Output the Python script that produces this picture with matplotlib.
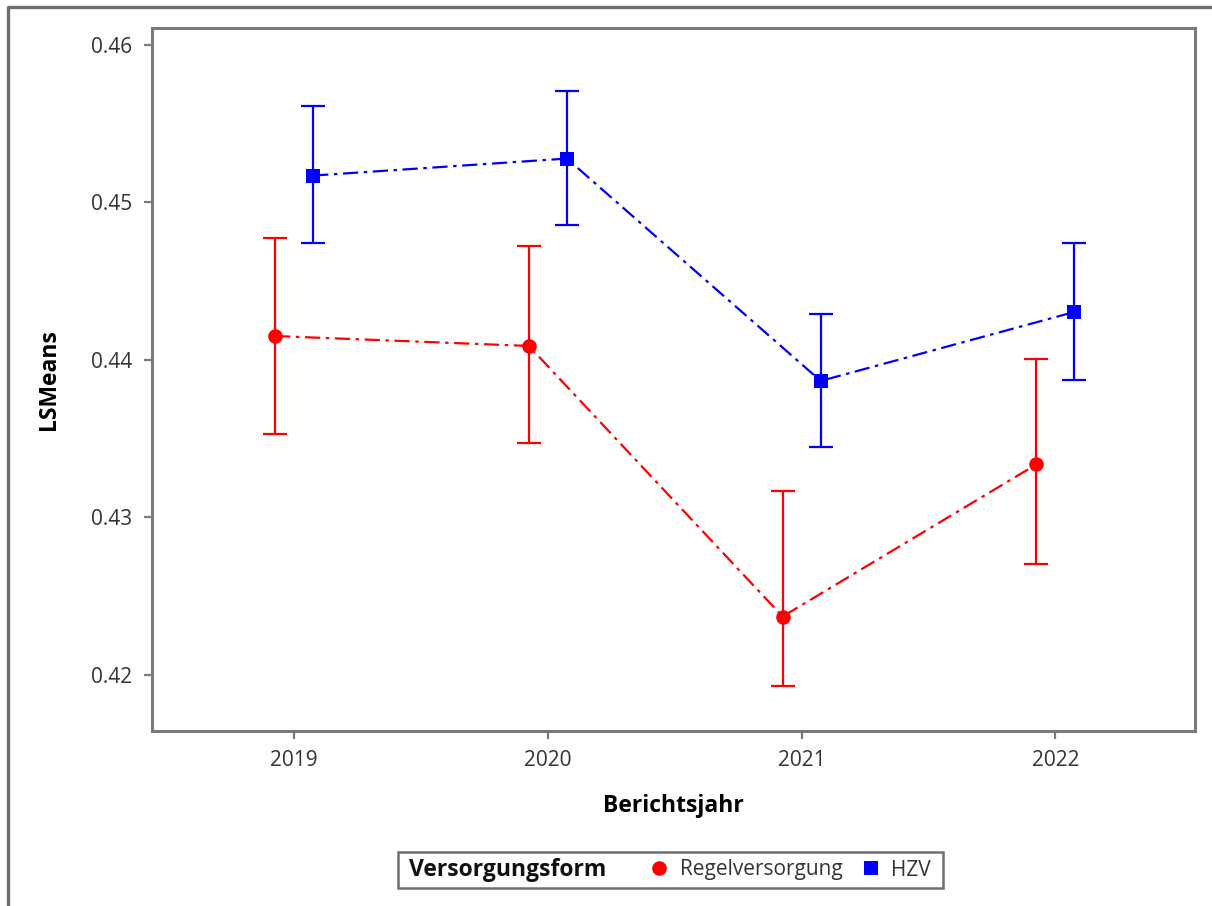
import matplotlib
matplotlib.use("Agg")
import matplotlib.pyplot as plt
from matplotlib.lines import Line2D
from matplotlib.patches import Rectangle
import numpy as np

plt.rcParams['font.family'] = ['Open Sans', 'DejaVu Sans']
plt.rcParams['lines.scale_dashes'] = False

years = ["2019", "2020", "2021", "2022"]
groups = ["Regelversorgung", "HZV"]

regel_mean = [0.44152, 0.44089, 0.42371, 0.43337]
regel_lower = [0.43530, 0.43473, 0.41927, 0.42702]
regel_upper = [0.44775, 0.44724, 0.43171, 0.44006]

hzv_mean = [0.45171, 0.45279, 0.43867, 0.44305]
hzv_lower = [0.44740, 0.44854, 0.43448, 0.43873]
hzv_upper = [0.45610, 0.45711, 0.44292, 0.44740]

W, H = 1212, 906
fig = plt.figure(figsize=(W / 100, H / 100), dpi=100)
ax = fig.add_axes([152 / W, 1 - 731 / H, (1195 - 152) / W, (731 - 28) / H])

x = np.arange(len(years))
offset = 0.075
dash = (0, (11, 4, 2.5, 4))

series = [
    (regel_mean, regel_lower, regel_upper, "#ff0000", "o", -offset, groups[0]),
    (hzv_mean, hzv_lower, hzv_upper, "#0000ff", "s", offset, groups[1]),
]
for mean, lo, hi, col, mk, off, name in series:
    mean = np.array(mean)
    yerr = np.vstack([mean - np.array(lo), np.array(hi) - mean])
    ax.errorbar(x + off, mean, yerr=yerr, fmt="none", ecolor=col,
                elinewidth=1.6, capsize=8.5, capthick=1.6, zorder=2)
    ax.plot(x + off, mean, color=col, linestyle=dash, linewidth=1.6,
            marker=mk, markersize=10.5, markeredgewidth=0, zorder=3, label=name)

ax.set_xlim(-0.56, 3.55)
ax.set_ylim(0.41644, 0.46108)
ax.set_xticks(x)
ax.set_xticklabels(years)
ax.set_yticks([0.42, 0.43, 0.44, 0.45, 0.46])
ax.set_yticklabels(["0.42", "0.43", "0.44", "0.45", "0.46"])

for sp in ax.spines.values():
    sp.set_color("#7a7a7a")
    sp.set_linewidth(2.2)
ax.tick_params(axis="both", length=6, width=1.6, color="#7a7a7a",
               labelsize=15, labelcolor="#333333", pad=8)

ax.set_xlabel("Berichtsjahr", fontsize=16.5, fontweight="bold", labelpad=16)
ax.set_ylabel("LSMeans", fontsize=16.5, fontweight="bold", labelpad=22)

# outer frame (left and top edges)
fig.add_artist(Line2D([8 / W, 8 / W, 1.0], [0.0, 1 - 7 / H, 1 - 7 / H],
                      transform=fig.transFigure, color="#6e6e6e", linewidth=2.4))

# legend box
fig.add_artist(Rectangle((398 / W, 1 - 888 / H), (943 - 398) / W, (888 - 852) / H,
                         transform=fig.transFigure, facecolor="white",
                         edgecolor="#6e6e6e", linewidth=1.8))
fig.text(409 / W, 1 - 870 / H, "Versorgungsform", fontsize=16.5, fontweight="bold",
         va="center", ha="left", color="#111111")
handles, labels = ax.get_legend_handles_labels()
leg_handles = [Line2D([], [], linestyle="none", marker=h.get_marker(),
                      color=h.get_color(), markersize=10.5, markeredgewidth=0)
               for h in handles]
fig.legend(leg_handles, labels, loc="center left",
           bbox_to_anchor=(638 / W, 1 - 870 / H), ncol=2, frameon=False,
           fontsize=15, handlelength=1.0, handletextpad=0.5,
           columnspacing=0.85, borderpad=0, labelcolor="#333333")

fig.savefig("out.png", dpi=100, facecolor="white")
